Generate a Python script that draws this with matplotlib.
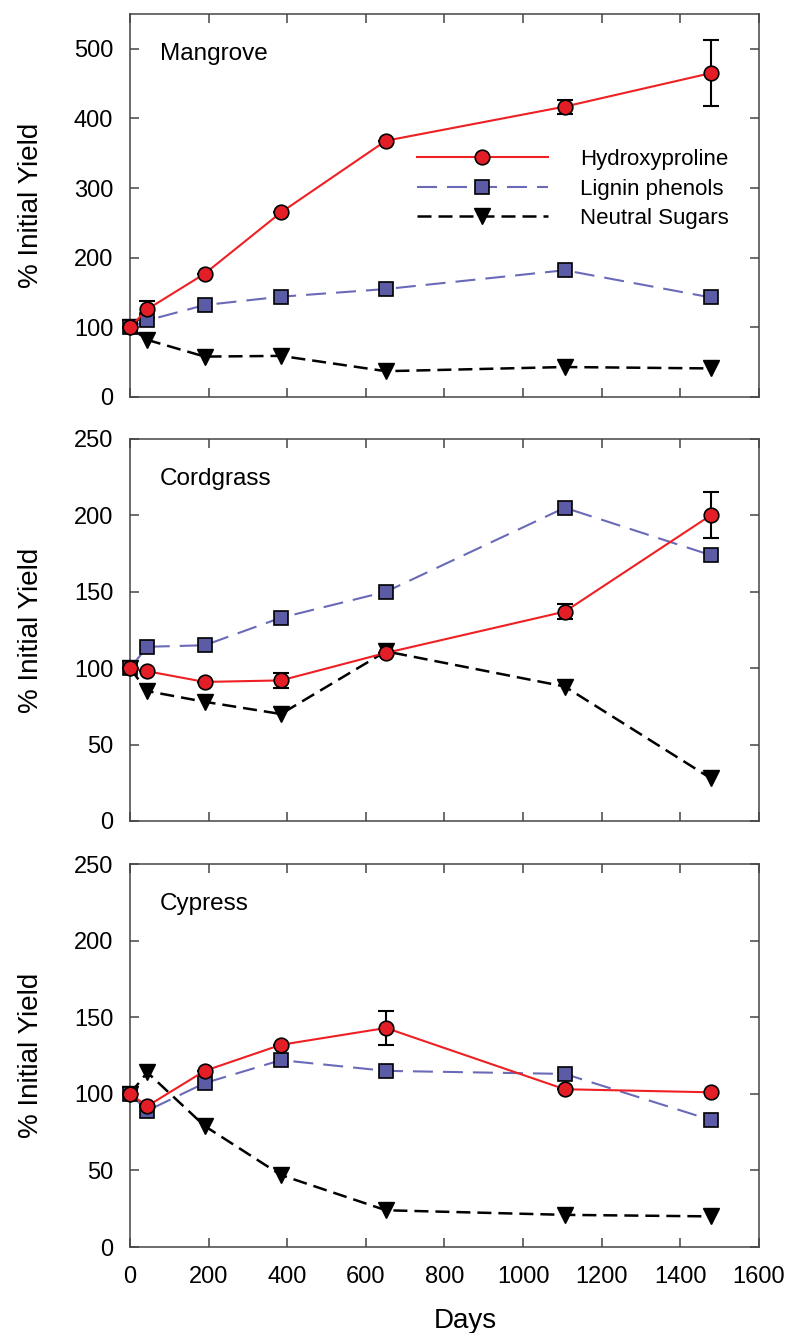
import matplotlib
matplotlib.use("Agg")
import matplotlib.pyplot as plt

plt.rcParams['font.family'] = ['Liberation Sans', 'DejaVu Sans']

# sampling days
days = [0, 44, 190, 384, 651, 1106, 1477]

# Mangrove
mang_hyp = [100, 126, 177, 265, 368, 417, 465]
mang_hyp_err = [0, 12, 0, 0, 0, 10, 47]
mang_lig = [100, 110, 132, 144, 155, 182, 143]
mang_sug = [100, 82, 58, 59, 37, 43, 41]

# Cordgrass
cord_hyp = [100, 98, 91, 92, 110, 137, 200]
cord_hyp_err = [0, 0, 0, 5, 0, 5, 15]
cord_lig = [100, 114, 115, 133, 150, 205, 174]
cord_sug = [100, 85, 78, 70, 111, 88, 28]

# Cypress
cyp_hyp = [100, 92, 115, 132, 143, 103, 101]
cyp_hyp_err = [0, 0, 0, 0, 11, 0, 0]
cyp_lig = [100, 89, 107, 122, 115, 113, 83]
cyp_sug = [100, 114, 79, 47, 24, 21, 20]

panels = [
    ("Mangrove", mang_hyp, mang_hyp_err, mang_lig, mang_sug, 550, [0, 100, 200, 300, 400, 500]),
    ("Cordgrass", cord_hyp, cord_hyp_err, cord_lig, cord_sug, 250, [0, 50, 100, 150, 200, 250]),
    ("Cypress", cyp_hyp, cyp_hyp_err, cyp_lig, cyp_sug, 250, [0, 50, 100, 150, 200, 250]),
]

fig = plt.figure(figsize=(7.94, 13.33), dpi=100)
boxes = [[0.1637, 0.7022, 0.7922, 0.2873],
         [0.1637, 0.3841, 0.7922, 0.2866],
         [0.1637, 0.0645, 0.7922, 0.2873]]

frame = '#454545'
for i, (name, hyp, herr, lig, sug, ymax, yticks) in enumerate(panels):
    ax = fig.add_axes(boxes[i])
    ax.errorbar(days, hyp, yerr=herr, fmt='none', ecolor='black', elinewidth=1.5,
                capsize=5.5, capthick=1.5, zorder=3, clip_on=False)
    ax.plot(days, sug, color='black', lw=1.8, dashes=(5.6, 2.8), marker='v',
            ms=11, mfc='black', mec='black', zorder=4, clip_on=False, label='Neutral Sugars')
    ax.plot(days, lig, color='#6a6ab8', lw=1.5, dashes=(9.6, 4.8), marker='s',
            ms=9.5, mfc='#5b5ba6', mec='black', mew=1.2, zorder=5, clip_on=False,
            label='Lignin phenols')
    ax.plot(days, hyp, color='#ee2024', lw=1.5, marker='o', ms=10.5, mfc='#e41e26',
            mec='black', mew=1.2, zorder=6, clip_on=False, label='Hydroxyproline')

    ax.set_xlim(0, 1600)
    ax.set_ylim(0, ymax)
    ax.set_xticks(range(0, 1601, 200))
    ax.set_yticks(yticks)
    ax.tick_params(direction='in', top=True, right=True, length=6.5, width=1.1,
                   color=frame, labelsize=17)
    ax.tick_params(axis='y', pad=12)
    ax.tick_params(axis='x', pad=14)
    for s in ax.spines.values():
        s.set_color(frame)
        s.set_linewidth(1.1)
    ax.set_ylabel('% Initial Yield', fontsize=20)
    ax.yaxis.set_label_coords(-0.137, 0.5)
    ax.text(0.048, 0.895, name, transform=ax.transAxes, fontsize=17.5, va='center', ha='left')

    if i < 2:
        ax.tick_params(labelbottom=False)
    else:
        ax.set_xlabel('Days', fontsize=20)
        ax.xaxis.set_label_coords(0.533, -0.158)

    if i == 0:
        h, l = ax.get_legend_handles_labels()
        ax.legend(h[::-1], l[::-1], loc='upper left', bbox_to_anchor=(0.456, 0.647),
                  frameon=False, fontsize=16, handlelength=5.9, handletextpad=1.44,
                  labelspacing=0.38, borderpad=0, borderaxespad=0)

fig.savefig('out.png', dpi=100)
